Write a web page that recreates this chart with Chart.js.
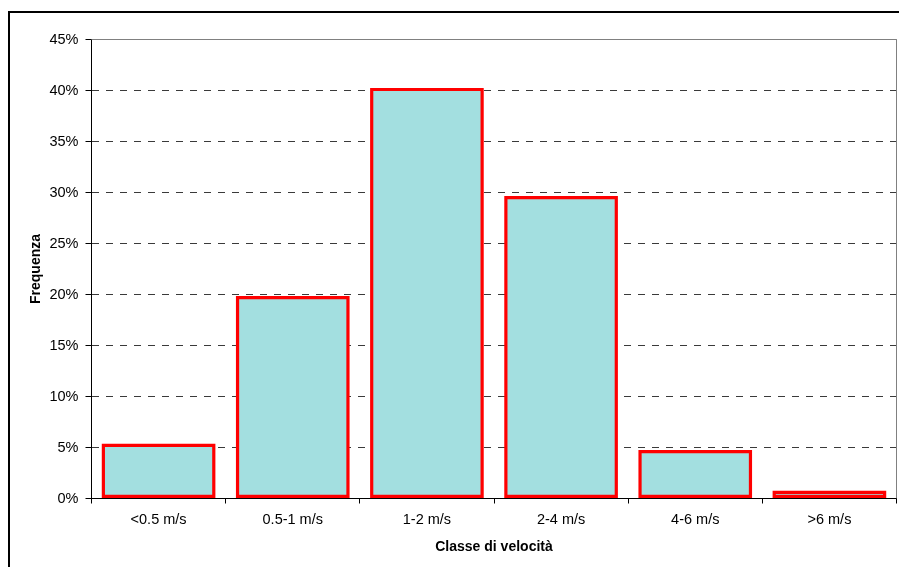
<!DOCTYPE html>
<html>
<head>
<meta charset="utf-8">
<script src="https://cdn.jsdelivr.net/npm/chart.js@4"></script>
<style>
  html, body { margin: 0; padding: 0; background: #fff; }
  #wrap { width: 899px; height: 567px; position: relative; }
</style>
</head>
<body>
<div id="wrap"><canvas id="c" width="899" height="567"></canvas></div>
<script>
// Frequency of wind speed classes (percent)
const categories = ['<0.5 m/s', '0.5-1 m/s', '1-2 m/s', '2-4 m/s', '4-6 m/s', '>6 m/s'];
const frequencies = [5.2, 19.7, 40.1, 29.5, 4.6, 0.6];
const yTicks = [0, 5, 10, 15, 20, 25, 30, 35, 40, 45];
const xTitle = 'Classe di velocità';
const yTitle = 'Frequenza';

const FONT = '"Liberation Sans", Arial, sans-serif';
const BAR_FILL = '#A3DFE0';
const BAR_EDGE = '#FF0000';
const EDGE_W = 3.2;

// Outer frame (left and top edges visible), grey plot-area border,
// bar outlines centred on the bar edges, and the x axis line on top
const framePlugin = {
  id: 'frame',
  beforeDraw(chart) {
    const ctx = chart.ctx;
    ctx.save();
    ctx.fillStyle = '#fff';
    ctx.fillRect(0, 0, chart.width, chart.height);
    ctx.strokeStyle = '#000';
    ctx.lineWidth = 2;
    ctx.beginPath();
    ctx.moveTo(9, chart.height + 2);
    ctx.lineTo(9, 12);
    ctx.lineTo(chart.width + 2, 12);
    ctx.stroke();
    ctx.restore();
  },
  beforeDatasetsDraw(chart) {
    const { ctx, chartArea: a } = chart;
    ctx.save();
    ctx.strokeStyle = '#808080';
    ctx.lineWidth = 1;
    ctx.beginPath();
    ctx.moveTo(a.left, a.top);
    ctx.lineTo(a.right, a.top);
    ctx.lineTo(a.right, a.bottom);
    ctx.stroke();
    ctx.restore();
  },
  afterDatasetsDraw(chart) {
    const { ctx, chartArea: a } = chart;
    const meta = chart.getDatasetMeta(0);
    ctx.save();
    ctx.strokeStyle = BAR_EDGE;
    ctx.lineWidth = EDGE_W;
    ctx.lineJoin = 'miter';
    meta.data.forEach(bar => {
      const p = bar.getProps(['x', 'y', 'base', 'width'], true);
      const l = p.x - p.width / 2;
      const r = p.x + p.width / 2;
      const b = p.base - EDGE_W / 2;
      ctx.beginPath();
      ctx.rect(l, p.y, r - l, b - p.y);
      ctx.stroke();
    });
    ctx.strokeStyle = '#000';
    ctx.lineWidth = 1;
    ctx.beginPath();
    ctx.moveTo(a.left, a.bottom);
    ctx.lineTo(a.right, a.bottom);
    ctx.stroke();
    ctx.restore();
  }
};

new Chart(document.getElementById('c'), {
  type: 'bar',
  data: {
    labels: categories,
    datasets: [{
      data: frequencies,
      backgroundColor: BAR_FILL,
      borderWidth: 0,
      categoryPercentage: 1,
      barPercentage: 0.823
    }]
  },
  options: {
    responsive: false,
    devicePixelRatio: 1,
    animation: false,
    layout: { padding: { top: 39.5, right: 2.5, left: 0, bottom: 0 } },
    plugins: { legend: { display: false }, tooltip: { enabled: false } },
    scales: {
      x: {
        afterFit(s) { s.height = 68.5; },
        grid: {
          display: true,
          offset: true,
          drawOnChartArea: false,
          drawTicks: true,
          tickLength: 5,
          tickColor: '#000',
          color: '#000'
        },
        border: { display: true, color: '#000', width: 1 },
        ticks: {
          color: '#000',
          font: { family: FONT, size: 14.5 },
          padding: 8,
          maxRotation: 0
        },
        title: {
          display: true,
          text: xTitle,
          color: '#000',
          font: { family: FONT, size: 14, weight: 'bold' },
          padding: { top: 0, bottom: 11.6 }
        }
      },
      y: {
        min: 0,
        max: 45,
        afterFit(s) { s.width = 91.5; },
        afterBuildTicks(s) { s.ticks = yTicks.map(v => ({ value: v })); },
        grid: {
          color: '#3a3a3a',
          lineWidth: 1,
          drawTicks: true,
          tickLength: 6,
          tickColor: '#000',
          tickBorderDash: []
        },
        border: { display: true, color: '#000', width: 1, dash: [7, 7] },
        ticks: {
          color: '#000',
          font: { family: FONT, size: 14.5 },
          padding: 7,
          callback: v => v + '%'
        },
        title: {
          display: true,
          text: yTitle,
          color: '#000',
          font: { family: FONT, size: 14, weight: 'bold' },
          padding: { top: 27.6, bottom: 0 }
        }
      }
    }
  },
  plugins: [framePlugin]
});
</script>
</body>
</html>
